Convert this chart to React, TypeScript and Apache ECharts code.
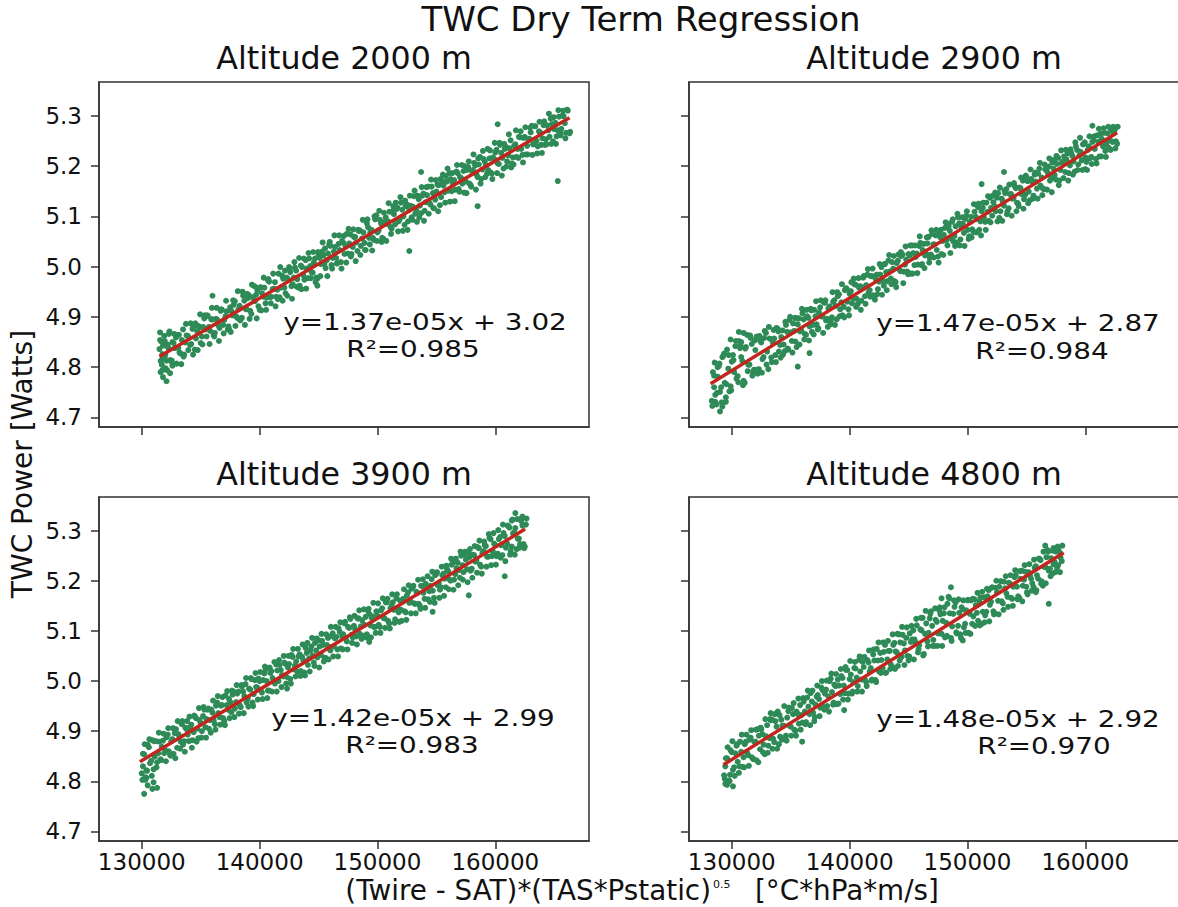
import React, { useEffect, useRef } from "react";
import * as echarts from "echarts";

// ---------------- data ----------------
const panelTitles = ["Altitude 2000 m", "Altitude 2900 m", "Altitude 3900 m", "Altitude 4800 m"];
const fitEquations = ["y=1.37e-05x + 3.02", "y=1.47e-05x + 2.87", "y=1.42e-05x + 2.99", "y=1.48e-05x + 2.92"];
const rSquared = ["R²=0.985", "R²=0.984", "R²=0.983", "R²=0.970"];
const xTicks = [130000, 140000, 150000, 160000];
const yTicks = [4.7, 4.8, 4.9, 5.0, 5.1, 5.2, 5.3];
const xRange = [126370, 167950];
const yRange = [4.681, 5.367];

const fit2000 = [[131500, 4.821], [166300, 5.296]];
const fit2900 = [[128200, 4.767], [162700, 5.266]];
const fit3900 = [[129840, 4.839], [162530, 5.303]];
const fit4800 = [[129290, 4.833], [158170, 5.256]];

const pts2000 = [
[131500,4.836],[131700,4.815],[131900,4.848],[132100,4.813],[132300,4.837],[132500,4.811],[132700,4.848],[132900,4.859],[133100,4.838],[133300,4.827],
[133500,4.875],[133700,4.849],[133900,4.862],[134100,4.844],[134300,4.876],[134500,4.835],[134700,4.871],[134900,4.879],[135100,4.861],[135300,4.897],
[135500,4.861],[135700,4.880],[135900,4.895],[136100,4.864],[136300,4.896],[136500,4.883],[136700,4.912],[136900,4.884],[137100,4.901],[137300,4.875],
[137500,4.919],[137700,4.903],[137900,4.931],[138100,4.898],[138300,4.922],[138500,4.898],[138700,4.932],[138900,4.915],[139100,4.943],[139300,4.906],
[139500,4.936],[139700,4.944],[139900,4.921],[140100,4.959],[140300,4.940],[140500,4.927],[140700,4.973],[140900,4.939],[141100,4.955],[141300,4.969],
[141500,4.954],[141700,4.939],[141900,4.982],[142100,4.958],[142300,4.978],[142500,4.999],[142700,4.961],[142900,4.978],[143100,4.992],[143300,4.958],
[143500,5.002],[143700,4.983],[143900,5.013],[144100,4.977],[144300,5.001],[144500,4.988],[144700,5.016],[144900,4.976],[145100,5.017],[145300,5.030],
[145500,5.005],[145700,5.013],[145900,5.043],[146100,5.003],[146300,5.030],[146500,5.017],[146700,5.045],[146900,5.009],[147100,5.047],[147300,5.040],
[147500,5.026],[147700,5.064],[147900,5.039],[148100,5.059],[148300,5.031],[148500,5.072],[148700,5.056],[148900,5.047],[149100,5.086],[149300,5.057],
[149500,5.073],[149700,5.053],[149900,5.102],[150100,5.072],[150300,5.086],[150500,5.055],[150700,5.098],[150900,5.090],[151100,5.079],[151300,5.111],
[151500,5.084],[151700,5.117],[151900,5.095],[152100,5.113],[152300,5.083],[152500,5.123],[152700,5.113],[152900,5.098],[153100,5.140],[153300,5.112],
[153500,5.134],[153700,5.106],[153900,5.145],[154100,5.128],[154300,5.159],[154500,5.123],[154700,5.146],[154900,5.133],[155100,5.163],[155300,5.122],
[155500,5.170],[155700,5.148],[155900,5.169],[156100,5.186],[156300,5.150],[156500,5.172],[156700,5.189],[156900,5.154],[157100,5.176],[157300,5.190],
[157500,5.169],[157700,5.198],[157900,5.162],[158100,5.192],[158300,5.201],[158500,5.178],[158700,5.218],[158900,5.193],[159100,5.209],[159300,5.185],
[159500,5.215],[159700,5.185],[159900,5.214],[160100,5.232],[160300,5.204],[160500,5.226],[160700,5.195],[160900,5.238],[161100,5.221],[161300,5.251],
[161500,5.217],[161700,5.243],[161900,5.234],[162100,5.257],[162300,5.222],[162500,5.258],[162700,5.240],[162900,5.254],[163100,5.280],[163300,5.244],
[163500,5.250],[163700,5.269],[163900,5.242],[164100,5.281],[164300,5.253],[164500,5.271],[164700,5.294],[164900,5.249],[165100,5.286],[165300,5.271],
[165500,5.267],[165700,5.300],[165900,5.285],[166100,5.312],[166300,5.265],
[131600,4.812],[131800,4.843],[132000,4.825],[132200,4.840],[132400,4.814],[132600,4.850],[132800,4.838],[133000,4.864],[133200,4.829],[133400,4.854],
[133600,4.825],[133800,4.863],[134000,4.859],[134200,4.846],[134400,4.880],[134600,4.857],[134800,4.882],[135000,4.848],[135200,4.880],[135400,4.875],
[135600,4.902],[135800,4.872],[136000,4.895],[136200,4.868],[136400,4.894],[136600,4.878],[136800,4.914],[137000,4.894],[137200,4.911],[137400,4.876],
[137600,4.912],[137800,4.924],[138000,4.901],[138200,4.915],[138400,4.897],[138600,4.942],[138800,4.916],[139000,4.937],[139200,4.912],[139400,4.939],
[139600,4.931],[139800,4.953],[140000,4.914],[140200,4.947],[140400,4.958],[140600,4.938],[140800,4.970],[141000,4.940],[141200,4.956],[141400,4.940],
[141600,4.986],[141800,4.958],[142000,4.976],[142200,4.947],[142400,4.975],[142600,4.989],[142800,4.965],[143000,4.998],[143200,4.975],[143400,4.962],
[143600,4.999],[143800,4.974],[144000,4.996],[144200,5.016],[144400,4.989],[144600,5.008],[144800,4.978],[145000,5.023],[145200,5.005],[145400,5.022],
[145600,4.997],[145800,5.026],[146000,5.041],[146200,5.017],[146400,5.039],[146600,5.007],[146800,5.033],[147000,5.051],[147200,5.025],[147400,5.065],
[147600,5.046],[147800,5.025],[148000,5.059],[148200,5.048],[148400,5.071],[148600,5.041],[148800,5.068],[149000,5.033],[149200,5.078],[149400,5.068],
[149600,5.057],[149800,5.094],[150000,5.068],[150200,5.093],[150400,5.057],[150600,5.089],[150800,5.085],[151000,5.109],[151200,5.075],[151400,5.104],
[151600,5.114],[151800,5.090],[152000,5.127],[152200,5.100],[152400,5.120],[152600,5.090],[152800,5.121],[153000,5.119],[153200,5.105],[153400,5.141],
[153600,5.121],[153800,5.141],[154000,5.111],[154200,5.142],[154400,5.127],[154600,5.159],[154800,5.116],[155000,5.149],[155200,5.162],[155400,5.138],
[155600,5.161],[155800,5.180],[156000,5.151],[156200,5.174],[156400,5.165],[156600,5.153],[156800,5.186],[157000,5.178],[157200,5.165],[157400,5.200],
[157600,5.192],[157800,5.165],[158000,5.190],[158200,5.206],[158400,5.183],[158600,5.203],[158800,5.174],[159000,5.214],[159200,5.202],[159400,5.192],
[159600,5.187],[159800,5.217],[160000,5.227],[160200,5.205],[160400,5.242],[160600,5.216],[160800,5.234],[161000,5.209],[161200,5.235],[161400,5.205],
[161600,5.240],[161800,5.218],[162000,5.258],[162200,5.234],[162400,5.256],[162600,5.223],[162800,5.253],[163000,5.267],[163200,5.243],[163400,5.279],
[163600,5.239],[163800,5.267],[164000,5.255],[164200,5.242],[164400,5.281],[164600,5.258],[164800,5.283],[165000,5.273],[165200,5.259],[165400,5.298],
[165600,5.274],[165800,5.299],[166000,5.266],
[131550,4.854],[131750,4.794],[131950,4.852],[132150,4.794],[132350,4.871],[132550,4.813],[132750,4.866],[132950,4.807],[133150,4.864],[133350,4.806],
[133550,4.821],[133750,4.886],[133950,4.834],[134150,4.887],[134350,4.825],[134550,4.887],[134750,4.834],[134950,4.905],[135150,4.845],[135350,4.903],
[135550,4.903],[135750,4.846],[135950,4.918],[136150,4.861],[136350,4.918],[136550,4.852],[136750,4.915],[136950,4.867],[137150,4.932],[137350,4.881],
[137550,4.870],[137750,4.933],[137950,4.882],[138150,4.951],[138350,4.893],[138550,4.950],[138750,4.884],[138950,4.946],[139150,4.896],[139350,4.964],
[139550,4.961],[139750,4.897],[139950,4.958],[140150,4.913],[140350,4.978],[140550,4.914],[140750,4.975],[140950,4.927],[141150,4.986],[141350,4.921],
[141550,4.935],[141750,4.999],[141950,4.932],[142150,4.992],[142350,4.942],[142550,4.994],[142750,4.936],[142950,5.009],[143150,4.960],[143350,5.017],
[143550,4.955],[143750,5.016],[143950,4.956],[144150,5.027],[144350,4.977],[144550,5.029],[144750,4.969],[144950,5.029],[145150,4.981],[145350,5.048],
[145550,5.036],[145750,4.981],[145950,5.049],[146150,4.996],[146350,5.062],[146550,5.006],[146750,5.062],[146950,4.996],[147150,5.061],[147350,5.008],
[147550,5.075],[147750,5.020],[147950,5.074],[148150,5.011],[148350,5.073],[148550,5.023],[148750,5.093],[148950,5.033],[149150,5.094],[149350,5.044],
[149550,5.032],[149750,5.100],[149950,5.051],[150150,5.111],[150350,5.049],[150550,5.107],[150750,5.051],[150950,5.126],[151150,5.065],[151350,5.120],
[151550,5.127],[151750,5.070],[151950,5.138],[152150,5.071],[152350,5.131],[152550,5.073],[152750,5.141],[152950,5.093],[153150,5.151],[153350,5.089],
[153550,5.098],[153750,5.158],[153950,5.091],[154150,5.158],[154350,5.105],[154550,5.173],[154750,5.116],[154950,5.172],[155150,5.110],[155350,5.174],
[155550,5.183],[155750,5.127],[155950,5.195],[156150,5.129],[156350,5.186],[156550,5.130],[156750,5.202],[156950,5.149],[157150,5.202],[157350,5.147],
[157550,5.146],[157750,5.209],[157950,5.159],[158150,5.223],[158350,5.153],[158550,5.215],[158750,5.165],[158950,5.230],[159150,5.178],[159350,5.234],
[159550,5.231],[159750,5.174],[159950,5.246],[160150,5.186],[160350,5.246],[160550,5.181],[160750,5.244],[160950,5.199],[161150,5.263],[161350,5.197],
[161550,5.203],[161750,5.271],[161950,5.216],[162150,5.269],[162350,5.207],[162550,5.277],[162750,5.223],[162950,5.276],[163150,5.222],[163350,5.279],
[163550,5.225],[163750,5.288],[163950,5.226],[164150,5.289],[164350,5.243],[164550,5.304],[164750,5.244],[164950,5.297],[165150,5.244],[165350,5.311],
[165550,5.261],[165750,5.310],[165950,5.255],[166150,5.310],[166350,5.268],
[131600,4.790],[131700,4.805],[131650,4.851],[131800,4.780],[131900,4.862],[132000,4.798],[132100,4.772],[131750,4.826],[132200,4.845],[131550,4.869],
[132400,4.788],[131950,4.818],[132300,4.866],[132600,4.803],[165300,5.170],[158500,5.120],[152700,5.031],[144900,4.962],[136000,4.942],[153700,5.188],[160200,5.283]
];

const pts2900 = [
[128300,4.733],[128500,4.783],[128700,4.726],[128900,4.802],[129100,4.760],[129300,4.823],[129500,4.731],[129700,4.797],[129900,4.762],[130100,4.824],
[130300,4.842],[130500,4.782],[130700,4.838],[130900,4.812],[131100,4.769],[131300,4.864],[131500,4.805],[131700,4.846],[131900,4.795],[132100,4.861],
[132300,4.796],[132500,4.849],[132700,4.820],[132900,4.868],[133100,4.796],[133300,4.856],[133500,4.848],[133700,4.824],[133900,4.876],[134100,4.844],
[134300,4.873],[134500,4.832],[134700,4.870],[134900,4.894],[135100,4.852],[135300,4.872],[135500,4.840],[135700,4.897],[135900,4.873],[136100,4.895],
[136300,4.864],[136500,4.898],[136700,4.916],[136900,4.884],[137100,4.901],[137300,4.875],[137500,4.919],[137700,4.901],[137900,4.928],[138100,4.896],
[138300,4.921],[138500,4.899],[138700,4.933],[138900,4.895],[139100,4.945],[139300,4.929],[139500,4.920],[139700,4.957],[139900,4.915],[140100,4.951],
[140300,4.936],[140500,4.964],[140700,4.926],[140900,4.961],[141100,4.957],[141300,4.941],[141500,4.984],[141700,4.953],[141900,4.981],[142100,4.940],
[142300,4.984],[142500,4.970],[142700,4.999],[142900,4.962],[143100,4.989],[143300,5.012],[143500,4.976],[143700,4.996],[143900,4.969],[144100,5.012],
[144300,4.991],[144500,5.024],[144700,5.004],[144900,4.990],[145100,5.022],[145300,5.042],[145500,5.003],[145700,5.026],[145900,5.041],[146100,5.003],
[146300,5.045],[146500,5.025],[146700,5.059],[146900,5.024],[147100,5.044],[147300,5.062],[147500,5.020],[147700,5.058],[147900,5.051],[148100,5.077],
[148300,5.042],[148500,5.071],[148700,5.089],[148900,5.061],[149100,5.048],[149300,5.086],[149500,5.078],[149700,5.067],[149900,5.101],[150100,5.055],
[150300,5.099],[150500,5.069],[150700,5.099],[150900,5.118],[151100,5.090],[151300,5.117],[151500,5.089],[151700,5.109],[151900,5.137],[152100,5.101],
[152300,5.120],[152500,5.137],[152700,5.097],[152900,5.135],[153100,5.121],[153300,5.154],[153500,5.116],[153700,5.144],[153900,5.136],[154100,5.156],
[154300,5.125],[154500,5.156],[154700,5.171],[154900,5.143],[155100,5.170],[155300,5.132],[155500,5.168],[155700,5.183],[155900,5.155],[156100,5.195],
[156300,5.177],[156500,5.154],[156700,5.192],[156900,5.199],[157100,5.176],[157300,5.195],[157500,5.173],[157700,5.216],[157900,5.192],[158100,5.209],
[158300,5.188],[158500,5.225],[158700,5.201],[158900,5.220],[159100,5.189],[159300,5.232],[159500,5.221],[159700,5.211],[159900,5.244],[160100,5.208],
[160300,5.239],[160500,5.218],[160700,5.251],[160900,5.214],[161100,5.248],[161300,5.264],[161500,5.239],[161700,5.230],[161900,5.265],[162100,5.251],
[162300,5.248],[162500,5.272],[162700,5.244],
[128400,4.790],[128600,4.731],[128800,4.781],[129000,4.751],[129200,4.820],[129400,4.769],[129600,4.835],[129800,4.752],[130000,4.811],[130200,4.790],
[130400,4.777],[130600,4.852],[130800,4.820],[131000,4.773],[131200,4.840],[131400,4.805],[131600,4.858],[131800,4.791],[132000,4.834],[132200,4.787],
[132400,4.853],[132600,4.816],[132800,4.872],[133000,4.831],[133200,4.857],[133400,4.810],[133600,4.857],[133800,4.878],[134000,4.831],[134200,4.860],
[134400,4.845],[134600,4.884],[134800,4.835],[135000,4.869],[135200,4.887],[135400,4.851],[135600,4.885],[135800,4.871],[136000,4.907],[136200,4.866],
[136400,4.901],[136600,4.881],[136800,4.870],[137000,4.914],[137200,4.885],[137400,4.909],[137600,4.901],[137800,4.929],[138000,4.893],[138200,4.917],
[138400,4.892],[138600,4.930],[138800,4.922],[139000,4.941],[139200,4.915],[139400,4.903],[139600,4.953],[139800,4.930],[140000,4.946],[140200,4.927],
[140400,4.965],[140600,4.936],[140800,4.958],[141000,4.932],[141200,4.981],[141400,4.963],[141600,4.948],[141800,4.981],[142000,4.943],[142200,4.976],
[142400,4.955],[142600,4.984],[142800,4.972],[143000,5.005],[143200,4.971],[143400,4.990],[143600,5.009],[143800,4.971],[144000,5.007],[144200,4.995],
[144400,5.021],[144600,4.990],[144800,5.014],[145000,5.025],[145200,4.986],[145400,5.027],[145600,5.019],[145800,5.004],[146000,5.047],[146200,5.033],
[146400,5.022],[146600,5.046],[146800,5.017],[147000,5.065],[147200,5.044],[147400,5.033],[147600,5.064],[147800,5.025],[148000,5.063],[148200,5.052],
[148400,5.080],[148600,5.056],[148800,5.050],[149000,5.080],[149200,5.098],[149400,5.054],[149600,5.085],[149800,5.095],[150000,5.073],[150200,5.089],
[150400,5.074],[150600,5.109],[150800,5.095],[151000,5.073],[151200,5.110],[151400,5.098],[151600,5.127],[151800,5.091],[152000,5.117],[152200,5.128],
[152400,5.110],[152600,5.146],[152800,5.110],[153000,5.130],[153200,5.146],[153400,5.110],[153600,5.144],[153800,5.135],[154000,5.160],[154200,5.127],
[154400,5.157],[154600,5.144],[154800,5.134],[155000,5.178],[155200,5.149],[155400,5.174],[155600,5.141],[155800,5.169],[156000,5.185],[156200,5.161],
[156400,5.155],[156600,5.193],[156800,5.187],[157000,5.171],[157200,5.207],[157400,5.182],[157600,5.204],[157800,5.171],[158000,5.206],[158200,5.219],
[158400,5.213],[158600,5.186],[158800,5.226],[159000,5.209],[159200,5.239],[159400,5.203],[159600,5.228],[159800,5.243],[160000,5.217],[160200,5.232],
[160400,5.215],[160600,5.248],[160800,5.234],[161000,5.261],[161200,5.219],[161400,5.254],[161600,5.266],[161800,5.244],[162000,5.236],[162200,5.272],
[162400,5.265],[162600,5.249],
[128350,4.723],[128550,4.809],[128750,4.749],[128950,4.807],[129150,4.730],[129350,4.827],[129550,4.766],[129750,4.824],[129950,4.754],[130150,4.814],
[130350,4.852],[130550,4.770],[130750,4.843],[130950,4.764],[131150,4.837],[131350,4.792],[131550,4.863],[131750,4.783],[131950,4.853],[132150,4.795],
[132350,4.862],[132550,4.789],[132750,4.858],[132950,4.805],[133150,4.880],[133350,4.819],[133550,4.874],[133750,4.810],[133950,4.871],[134150,4.819],
[134350,4.825],[134550,4.890],[134750,4.837],[134950,4.900],[135150,4.829],[135350,4.898],[135550,4.897],[135750,4.845],[135950,4.916],[136150,4.855],
[136350,4.914],[136550,4.853],[136750,4.913],[136950,4.865],[137150,4.931],[137350,4.877],[137550,4.933],[137750,4.868],[137950,4.933],[138150,4.880],
[138350,4.885],[138550,4.949],[138750,4.884],[138950,4.949],[139150,4.901],[139350,4.965],[139550,4.899],[139750,4.955],[139950,4.903],[140150,4.969],
[140350,4.976],[140550,4.920],[140750,4.977],[140950,4.914],[141150,4.978],[141350,4.926],[141550,4.995],[141750,4.940],[141950,4.996],[142150,4.934],
[142350,4.945],[142550,5.005],[142750,4.944],[142950,5.005],[143150,4.953],[143350,5.023],[143550,4.965],[143750,5.021],[143950,4.959],[144150,5.024],
[144350,5.029],[144550,4.967],[144750,5.040],[144950,4.985],[145150,5.042],[145350,4.986],[145550,5.042],[145750,4.987],[145950,5.060],[146150,5.005],
[146350,4.997],[146550,5.058],[146750,5.008],[146950,5.072],[147150,5.018],[147350,5.073],[147550,5.008],[147750,5.073],[147950,5.023],[148150,5.088],
[148350,5.085],[148550,5.027],[148750,5.094],[148950,5.041],[149150,5.105],[149350,5.042],[149550,5.098],[149750,5.041],[149950,5.110],[150150,5.060],
[150350,5.058],[150550,5.124],[150750,5.068],[150950,5.125],[151150,5.062],[151350,5.127],[151550,5.073],[151750,5.140],[151950,5.088],[152150,5.141],
[152350,5.147],[152550,5.090],[152750,5.157],[152950,5.091],[153150,5.151],[153350,5.104],[153550,5.163],[153750,5.101],[153950,5.166],[154150,5.110],
[154350,5.120],[154550,5.177],[154750,5.115],[154950,5.181],[155150,5.126],[155350,5.193],[155550,5.135],[155750,5.187],[155950,5.135],[156150,5.206],
[156350,5.142],[156550,5.203],[156750,5.153],[156950,5.215],[157150,5.148],[157350,5.212],[157550,5.220],[157750,5.162],[157950,5.231],[158150,5.176],
[158350,5.232],[158550,5.171],[158750,5.233],[158950,5.183],[159150,5.247],[159350,5.192],[159550,5.256],[159750,5.192],[159950,5.247],[160150,5.192],
[160350,5.259],[160550,5.204],[160750,5.259],[160950,5.205],[161150,5.274],[161350,5.219],[161550,5.275],[161750,5.218],[161950,5.278],[162150,5.232],
[162350,5.278],[162550,5.235],[162750,5.278],
[129000,4.712],[129200,4.722],[128600,4.745],[130600,4.870],[131000,4.868],[129900,4.855],[135600,4.801],[136600,4.828],[153100,5.188],[151200,5.164],
[162600,5.277],[160600,5.280],[160000,5.194],[128500,4.760],[128800,4.800],[129500,4.740],[130800,4.850]
];

const pts3900 = [
[130000,4.816],[130200,4.854],[130400,4.807],[130600,4.868],[130800,4.841],[131000,4.824],[131200,4.880],[131400,4.856],[131600,4.844],[131800,4.881],
[132000,4.862],[132200,4.893],[132400,4.853],[132600,4.884],[132800,4.896],[133000,4.867],[133200,4.890],[133400,4.914],[133600,4.880],[133800,4.904],
[134000,4.880],[134200,4.913],[134400,4.898],[134600,4.926],[134800,4.886],[135000,4.916],[135200,4.930],[135400,4.908],[135600,4.943],[135800,4.922],
[136000,4.937],[136200,4.914],[136400,4.957],[136600,4.928],[136800,4.952],[137000,4.920],[137200,4.952],[137400,4.964],[137600,4.938],[137800,4.979],
[138000,4.958],[138200,4.979],[138400,4.948],[138600,4.979],[138800,4.994],[139000,4.965],[139200,4.983],[139400,4.957],[139600,5.002],[139800,4.987],
[140000,5.000],[140200,4.977],[140400,5.015],[140600,5.000],[140800,4.981],[141000,5.020],[141200,5.001],[141400,5.033],[141600,5.000],[141800,5.022],
[142000,5.009],[142200,5.034],[142400,5.027],[142600,5.004],[142800,5.048],[143000,5.031],[143200,5.019],[143400,5.053],[143600,5.048],[143800,5.017],
[144000,5.056],[144200,5.045],[144400,5.069],[144600,5.037],[144800,5.061],[145000,5.081],[145200,5.052],[145400,5.072],[145600,5.046],[145800,5.086],
[146000,5.061],[146200,5.095],[146400,5.085],[146600,5.063],[146800,5.098],[147000,5.089],[147200,5.115],[147400,5.079],[147600,5.106],[147800,5.092],
[148000,5.110],[148200,5.089],[148400,5.125],[148600,5.109],[148800,5.090],[149000,5.128],[149200,5.140],[149400,5.111],[149600,5.129],[149800,5.108],
[150000,5.130],[150200,5.108],[150400,5.145],[150600,5.125],[150800,5.157],[151000,5.115],[151200,5.150],[151400,5.142],[151600,5.165],[151800,5.137],
[152000,5.142],[152200,5.164],[152400,5.137],[152600,5.177],[152800,5.159],[153000,5.187],[153200,5.154],[153400,5.176],[153600,5.150],[153800,5.189],
[154000,5.164],[154200,5.189],[154400,5.179],[154600,5.203],[154800,5.166],[155000,5.214],[155200,5.195],[155400,5.187],[155600,5.214],[155800,5.187],
[156000,5.219],[156200,5.200],[156400,5.236],[156600,5.213],[156800,5.236],[157000,5.206],[157200,5.231],[157400,5.252],[157600,5.223],[157800,5.247],
[158000,5.224],[158200,5.251],[158400,5.241],[158600,5.265],[158800,5.228],[159000,5.259],[159200,5.269],[159400,5.248],[159600,5.283],[159800,5.258],
[160000,5.271],[160200,5.254],[160400,5.287],[160600,5.251],[160800,5.289],[161000,5.274],[161200,5.306],[161400,5.268],[161600,5.297],[161800,5.263],
[162000,5.284],[162200,5.319],[162400,5.273],[162600,5.312],
[130100,4.855],[130300,4.808],[130500,4.873],[130700,4.836],[130900,4.882],[131100,4.849],[131300,4.838],[131500,4.879],[131700,4.869],[131900,4.856],
[132100,4.888],[132300,4.860],[132500,4.880],[132700,4.855],[132900,4.904],[133100,4.894],[133300,4.879],[133500,4.873],[133700,4.907],[133900,4.893],
[134100,4.908],[134300,4.882],[134500,4.929],[134700,4.905],[134900,4.922],[135100,4.900],[135300,4.943],[135500,4.924],[135700,4.905],[135900,4.943],
[136100,4.922],[136300,4.951],[136500,4.936],[136700,4.951],[136900,4.926],[137100,4.971],[137300,4.943],[137500,4.958],[137700,4.973],[137900,4.945],
[138100,4.975],[138300,4.952],[138500,4.989],[138700,4.970],[138900,4.957],[139100,4.985],[139300,5.004],[139500,4.974],[139700,4.988],[139900,5.005],
[140100,4.981],[140300,5.002],[140500,5.023],[140700,4.981],[140900,5.016],[141100,5.006],[141300,4.995],[141500,5.021],[141700,5.032],[141900,5.012],
[142100,5.037],[142300,5.008],[142500,5.034],[142700,5.052],[142900,5.023],[143100,5.039],[143300,5.049],[143500,5.020],[143700,5.042],[143900,5.066],
[144100,5.032],[144300,5.061],[144500,5.051],[144700,5.076],[144900,5.047],[145100,5.069],[145300,5.080],[145500,5.046],[145700,5.072],[145900,5.068],
[146100,5.090],[146300,5.069],[146500,5.088],[146700,5.105],[146900,5.065],[147100,5.093],[147300,5.086],[147500,5.108],[147700,5.124],[147900,5.087],
[148100,5.104],[148300,5.125],[148500,5.094],[148700,5.121],[148900,5.112],[149100,5.093],[149300,5.134],[149500,5.126],[149700,5.108],[149900,5.139],
[150100,5.112],[150300,5.141],[150500,5.126],[150700,5.157],[150900,5.120],[151100,5.145],[151300,5.157],[151500,5.123],[151700,5.146],[151900,5.161],
[152100,5.158],[152300,5.139],[152500,5.171],[152700,5.156],[152900,5.184],[153100,5.155],[153300,5.178],[153500,5.154],[153700,5.190],[153900,5.176],
[154100,5.194],[154300,5.163],[154500,5.190],[154700,5.180],[154900,5.211],[155100,5.191],[155300,5.182],[155500,5.211],[155700,5.204],[155900,5.223],
[156100,5.203],[156300,5.232],[156500,5.202],[156700,5.225],[156900,5.221],[157100,5.250],[157300,5.217],[157500,5.242],[157700,5.254],[157900,5.220],
[158100,5.252],[158300,5.238],[158500,5.267],[158700,5.232],[158900,5.255],[159100,5.271],[159300,5.248],[159500,5.285],[159700,5.249],[159900,5.274],
[160100,5.249],[160300,5.283],[160500,5.271],[160700,5.295],[160900,5.266],[161100,5.309],[161300,5.259],[161500,5.294],[161700,5.305],[161900,5.284],
[162100,5.273],[162300,5.310],[162500,5.268],
[130050,4.803],[130250,4.874],[130450,4.821],[130650,4.884],[130850,4.811],[131050,4.880],[131250,4.828],[131450,4.897],[131650,4.842],[131850,4.895],
[132050,4.840],[132250,4.906],[132450,4.851],[132650,4.906],[132850,4.846],[133050,4.920],[133250,4.865],[133450,4.920],[133650,4.859],[133850,4.920],
[134050,4.929],[134250,4.867],[134450,4.931],[134650,4.879],[134850,4.946],[135050,4.887],[135250,4.948],[135450,4.887],[135650,4.945],[135850,4.897],
[136050,4.961],[136250,4.903],[136450,4.970],[136650,4.913],[136850,4.968],[137050,4.912],[137250,4.980],[137450,4.926],[137650,4.981],[137850,4.928],
[138050,4.992],[138250,4.935],[138450,4.992],[138650,4.936],[138850,5.006],[139050,4.949],[139250,5.006],[139450,4.950],[139650,5.016],[139850,4.963],
[140050,5.018],[140250,4.964],[140450,5.029],[140650,4.966],[140850,5.027],[141050,4.979],[141250,5.038],[141450,4.979],[141650,5.042],[141850,4.988],
[142050,5.050],[142250,4.995],[142450,5.050],[142650,4.995],[142850,5.064],[143050,5.009],[143250,5.064],[143450,5.010],[143650,5.073],[143850,5.011],
[144050,5.076],[144250,5.019],[144450,5.086],[144650,5.030],[144850,5.085],[145050,5.027],[145250,5.094],[145450,5.039],[145650,5.093],[145850,5.043],
[146050,5.108],[146250,5.049],[146450,5.108],[146650,5.049],[146850,5.117],[147050,5.063],[147250,5.118],[147450,5.063],[147650,5.127],[147850,5.076],
[148050,5.130],[148250,5.073],[148450,5.141],[148650,5.084],[148850,5.143],[149050,5.087],[149250,5.144],[149450,5.087],[149650,5.156],[149850,5.096],
[150050,5.155],[150250,5.096],[150450,5.165],[150650,5.106],[150850,5.164],[151050,5.105],[151250,5.173],[151450,5.116],[151650,5.173],[151850,5.118],
[152050,5.120],[152250,5.183],[152450,5.122],[152650,5.191],[152850,5.135],[153050,5.190],[153250,5.135],[153450,5.202],[153650,5.144],[153850,5.203],
[154050,5.146],[154250,5.209],[154450,5.158],[154650,5.218],[154850,5.156],[155050,5.217],[155250,5.166],[155450,5.228],[155650,5.170],[155850,5.230],
[156050,5.183],[156250,5.244],[156450,5.182],[156650,5.244],[156850,5.191],[157050,5.258],[157250,5.202],[157450,5.258],[157650,5.197],[157850,5.263],
[158050,5.206],[158250,5.269],[158450,5.216],[158650,5.280],[158850,5.214],[159050,5.278],[159250,5.228],[159450,5.293],[159650,5.231],[159850,5.295],
[160050,5.232],[160250,5.301],[160450,5.246],[160650,5.312],[160850,5.239],[161050,5.310],[161250,5.252],[161450,5.322],[161650,5.252],[161850,5.323],
[162050,5.266],[162250,5.325],[162450,5.265],[162650,5.324],
[130200,4.775],[130500,4.792],[130900,4.785],[131000,4.798],[130300,4.803],[131300,4.787],[161700,5.335],[162300,5.328],[161400,5.320],[160800,5.209],
[157750,5.171],[149300,5.078],[154680,5.138],[142330,4.985],[130100,4.830],[130400,4.822]
];

const pts4800 = [
[129400,4.805],[129600,4.846],[129800,4.801],[130000,4.858],[130200,4.828],[130400,4.871],[130600,4.817],[130800,4.859],[131000,4.848],[131200,4.879],
[131400,4.852],[131600,4.887],[131800,4.845],[132000,4.879],[132200,4.904],[132400,4.864],[132600,4.894],[132800,4.854],[133000,4.912],[133200,4.886],
[133400,4.923],[133600,4.878],[133800,4.909],[134000,4.874],[134200,4.923],[134400,4.911],[134600,4.891],[134800,4.940],[135000,4.909],[135200,4.934],
[135400,4.901],[135600,4.934],[135800,4.952],[136000,4.917],[136200,4.939],[136400,4.967],[136600,4.934],[136800,4.959],[137000,4.920],[137200,4.969],
[137400,4.964],[137600,4.987],[137800,4.948],[138000,4.983],[138200,4.969],[138400,5.005],[138600,4.953],[138800,4.990],[139000,5.003],[139200,4.974],
[139400,5.006],[139600,4.976],[139800,5.022],[140000,5.004],[140200,4.975],[140400,5.026],[140600,5.007],[140800,5.042],[141000,5.003],[141200,5.028],
[141400,4.998],[141600,5.037],[141800,5.026],[142000,5.053],[142200,5.002],[142400,5.041],[142600,5.056],[142800,5.026],[143000,5.072],[143200,5.043],
[143400,5.060],[143600,5.029],[143800,5.076],[144000,5.057],[144200,5.093],[144400,5.048],[144600,5.075],[144800,5.086],[145000,5.041],[145200,5.078],
[145400,5.101],[145600,5.077],[145800,5.057],[146000,5.103],[146200,5.126],[146400,5.094],[146600,5.079],[146800,5.125],[147000,5.110],[147200,5.070],
[147400,5.118],[147600,5.141],[147800,5.094],[148000,5.135],[148200,5.116],[148400,5.168],[148600,5.086],[148800,5.134],[149000,5.157],[149200,5.110],
[149400,5.093],[149600,5.143],[149800,5.114],[150000,5.161],[150200,5.134],[150400,5.114],[150600,5.163],[150800,5.136],[151000,5.159],[151200,5.114],
[151400,5.167],[151600,5.138],[151800,5.181],[152000,5.158],[152200,5.139],[152400,5.186],[152600,5.160],[152800,5.199],[153000,5.155],[153200,5.185],
[153400,5.168],[153600,5.195],[153800,5.164],[154000,5.207],[154200,5.188],[154400,5.166],[154600,5.220],[154800,5.202],[155000,5.188],[155200,5.217],
[155400,5.204],[155600,5.188],[155800,5.229],[156000,5.204],[156200,5.241],[156400,5.190],[156600,5.227],[156800,5.261],[157000,5.224],[157200,5.214],
[157400,5.237],[157600,5.226],[157800,5.257],[158000,5.239],
[129500,4.846],[129700,4.801],[129900,4.862],[130100,4.823],[130300,4.856],[130500,4.839],[130700,4.879],[130900,4.829],[131100,4.874],[131300,4.857],
[131500,4.883],[131700,4.848],[131900,4.879],[132100,4.842],[132300,4.891],[132500,4.904],[132700,4.873],[132900,4.890],[133100,4.871],[133300,4.922],
[133500,4.885],[133700,4.920],[133900,4.939],[134100,4.889],[134300,4.911],[134500,4.884],[134700,4.927],[134900,4.911],[135100,4.946],[135300,4.903],
[135500,4.939],[135700,4.915],[135900,4.932],[136100,4.959],[136300,4.918],[136500,4.949],[136700,4.976],[136900,4.937],[137100,4.953],[137300,4.972],
[137500,4.947],[137700,4.982],[137900,4.975],[138100,4.950],[138300,5.000],[138500,4.978],[138700,4.993],[138900,4.954],[139100,4.991],[139300,5.010],
[139500,4.991],[139700,5.022],[139900,4.975],[140100,5.013],[140300,4.998],[140500,5.025],[140700,4.990],[140900,5.019],[141100,5.038],[141300,5.003],
[141500,5.042],[141700,5.019],[141900,5.003],[142100,5.041],[142300,5.064],[142500,5.019],[142700,5.042],[142900,5.058],[143100,5.017],[143300,5.060],
[143500,5.033],[143700,5.072],[143900,5.059],[144100,5.030],[144300,5.077],[144500,5.092],[144700,5.061],[144900,5.050],[145100,5.095],[145300,5.083],
[145500,5.083],[145700,5.111],[145900,5.071],[146100,5.101],[146300,5.054],[146500,5.115],[146700,5.096],[146900,5.139],[147100,5.082],[147300,5.122],
[147500,5.095],[147700,5.133],[147900,5.120],[148100,5.087],[148300,5.154],[148500,5.135],[148700,5.109],[148900,5.148],[149100,5.095],[149300,5.136],
[149500,5.147],[149700,5.107],[149900,5.141],[150100,5.096],[150300,5.161],[150500,5.129],[150700,5.151],[150900,5.120],[151100,5.167],[151300,5.138],
[151500,5.131],[151700,5.169],[151900,5.152],[152100,5.187],[152300,5.135],[152500,5.177],[152700,5.188],[152900,5.159],[153100,5.198],[153300,5.175],
[153500,5.196],[153700,5.166],[153900,5.188],[154100,5.211],[154300,5.169],[154500,5.204],[154700,5.190],[154900,5.218],[155100,5.173],[155300,5.210],
[155500,5.195],[155700,5.226],[155900,5.211],[156100,5.244],[156300,5.199],[156500,5.228],[156700,5.247],[156900,5.220],[157100,5.245],[157300,5.233],
[157500,5.258],[157700,5.231],[157900,5.246],
[129450,4.795],[129650,4.868],[129850,4.813],[130050,4.880],[130250,4.811],[130450,4.874],[130650,4.830],[130850,4.893],[131050,4.828],[131250,4.893],
[131450,4.831],[131650,4.902],[131850,4.844],[132050,4.903],[132250,4.838],[132450,4.907],[132650,4.858],[132850,4.924],[133050,4.857],[133250,4.924],
[133450,4.865],[133650,4.934],[133850,4.865],[134050,4.932],[134250,4.883],[134450,4.950],[134650,4.881],[134850,4.947],[135050,4.891],[135250,4.956],
[135450,4.891],[135650,4.965],[135850,4.903],[136050,4.966],[136250,4.914],[136450,4.981],[136650,4.912],[136850,4.981],[137050,4.928],[137250,4.991],
[137450,4.930],[137650,5.000],[137850,4.943],[138050,5.001],[138250,4.939],[138450,5.015],[138650,4.957],[138850,5.014],[139050,4.955],[139250,5.024],
[139450,4.963],[139650,5.028],[139850,4.963],[140050,5.040],[140250,4.979],[140450,5.038],[140650,4.979],[140850,5.049],[141050,4.979],[141250,5.048],
[141450,4.990],[141650,5.061],[141850,5.001],[142050,5.063],[142250,4.998],[142450,5.077],[142650,5.016],[142850,5.077],[143050,5.016],[143250,5.080],
[143450,5.024],[143650,5.093],[143850,5.024],[144050,5.094],[144250,5.041],[144450,5.108],[144650,5.032],[144850,5.107],[145050,5.049],[145250,5.110],
[145450,5.043],[145650,5.124],[145850,5.063],[146050,5.126],[146250,5.051],[146450,5.140],[146650,5.069],[146850,5.134],[147050,5.070],[147250,5.145],
[147450,5.070],[147650,5.147],[147850,5.070],[148050,5.147],[148250,5.090],[148450,5.165],[148650,5.080],[148850,5.161],[149050,5.097],[149250,5.163],
[149450,5.086],[149650,5.161],[149850,5.096],[150050,5.162],[150250,5.094],[150450,5.164],[150650,5.110],[150850,5.176],[151050,5.111],[151250,5.178],
[151450,5.117],[151650,5.184],[151850,5.119],[152050,5.186],[152250,5.133],[152450,5.200],[152650,5.133],[152850,5.199],[153050,5.142],[153250,5.209],
[153450,5.148],[153650,5.211],[153850,5.150],[154050,5.221],[154250,5.163],[154450,5.219],[154650,5.159],[154850,5.231],[155050,5.177],[155250,5.233],
[155450,5.180],[155650,5.242],[155850,5.181],[156050,5.244],[156250,5.194],[156450,5.258],[156650,5.195],[156850,5.258],[157050,5.209],[157250,5.260],
[157450,5.217],[157650,5.268],[157850,5.217],[158050,5.270],
[129600,4.793],[129800,4.800],[129350,4.812],[130100,4.790],[148600,5.187],[147800,5.165],[149600,5.081],[156900,5.154],[155800,5.177],[156600,5.270],
[157300,5.265],[157700,5.262],[135970,4.879],[139540,4.942],[133300,4.936],[129450,4.830]
];

const panelPoints = [pts2000, pts2900, pts3900, pts4800];
const panelFits = [fit2000, fit2900, fit3900, fit4800];

// ---------------- layout & style ----------------
const FONT = "'DejaVu Sans', 'Liberation Sans', sans-serif";
const TEXT = "#111111";
const SPINE = "#333333";
const GREEN = "#2e8b57";
const RED = "#c0261d";

const GRIDS = [
  { left: 99, top: 82, width: 490, height: 345 },
  { left: 689, top: 82, width: 490, height: 345 },
  { left: 99, top: 497, width: 490, height: 344 },
  { left: 689, top: 497, width: 490, height: 344 },
];
const TITLE_POS = [[344, 58], [934, 58], [344, 474], [934, 474]];
const EQ_POS = [[425, 322], [1018, 322.5], [413, 717.5], [1018, 718.5]];
const R2_POS = [[413, 349], [1042, 351], [412, 745], [1044, 746]];
const ANNOT_SIZE = 23;
const ANNOT_STRETCH = 1.21;

function txt(text: string, x: number, y: number, size: number, align = "center", extra: any = {}) {
  return {
    type: "text",
    x,
    y,
    silent: true,
    z: 100,
    ...extra,
    style: {
      text,
      fontSize: size,
      fontFamily: FONT,
      fill: TEXT,
      textAlign: align,
      align,
      textVerticalAlign: "middle",
      verticalAlign: "middle",
    },
  };
}

export default function App() {
  const ref = useRef<HTMLDivElement>(null);

  useEffect(() => {
    if (!ref.current) return;
    const chart = echarts.init(ref.current, null, { renderer: "svg", width: 1178, height: 907 });

    const grid = GRIDS.map((g) => ({
      ...g,
      show: true,
      borderColor: SPINE,
      borderWidth: 1.5,
      backgroundColor: "transparent",
      containLabel: false,
      outerBoundsMode: "none",
    }));

    const xAxis = GRIDS.map((_, i) => ({
      type: "value",
      gridIndex: i,
      min: xRange[0],
      max: xRange[1],
      axisLine: { show: true, onZero: false, lineStyle: { color: SPINE, width: 1.5 } },
      axisTick: { show: true, length: 8, customValues: xTicks, lineStyle: { color: SPINE, width: 1.5 } },
      axisLabel: {
        show: i >= 2,
        customValues: xTicks,
        fontSize: 23,
        fontFamily: FONT,
        color: TEXT,
        margin: 10,
        lineHeight: 22,
        formatter: (v: number) => String(Math.round(v)),
      },
      splitLine: { show: false },
    }));

    const yAxis = GRIDS.map((_, i) => ({
      type: "value",
      gridIndex: i,
      min: yRange[0],
      max: yRange[1],
      axisLine: { show: true, onZero: false, lineStyle: { color: SPINE, width: 1.5 } },
      axisTick: { show: true, length: 8, customValues: yTicks, lineStyle: { color: SPINE, width: 1.5 } },
      axisLabel: {
        show: i % 2 === 0,
        customValues: yTicks,
        fontSize: 23,
        fontFamily: FONT,
        color: TEXT,
        margin: 17,
        formatter: (v: number) => v.toFixed(1),
      },
      splitLine: { show: false },
    }));

    const series: any[] = [];
    panelPoints.forEach((pts, i) => {
      series.push({
        type: "scatter",
        xAxisIndex: i,
        yAxisIndex: i,
        data: pts,
        symbol: "circle",
        symbolSize: 6,
        itemStyle: { color: GREEN, opacity: 1 },
        silent: true,
        z: 2,
      });
      series.push({
        type: "line",
        xAxisIndex: i,
        yAxisIndex: i,
        data: panelFits[i],
        symbol: "none",
        showSymbol: false,
        lineStyle: { color: RED, width: 3.5 },
        silent: true,
        z: 3,
      });
    });

    const graphic: any[] = [
      txt("TWC Dry Term Regression", 641, 19, 34),
      txt("TWC Power [Watts]", 22, 464, 28, "center", { rotation: Math.PI / 2 }),
      txt("(Twire - SAT)*(TAS*Pstatic)", 711, 890, 27.8, "right"),
      txt("0.5", 713, 884, 11, "left"),
      txt("[°C*hPa*m/s]", 755, 890, 27.8, "left"),
    ];
    panelTitles.forEach((t, i) => graphic.push(txt(t, TITLE_POS[i][0], TITLE_POS[i][1], 31.7)));
    fitEquations.forEach((t, i) =>
      graphic.push(txt(t, EQ_POS[i][0], EQ_POS[i][1], ANNOT_SIZE, "center", { scaleX: ANNOT_STRETCH }))
    );
    rSquared.forEach((t, i) =>
      graphic.push(txt(t, R2_POS[i][0], R2_POS[i][1], ANNOT_SIZE, "center", { scaleX: ANNOT_STRETCH }))
    );

    chart.setOption({
      animation: false,
      backgroundColor: "#ffffff",
      textStyle: { fontFamily: FONT },
      grid,
      xAxis,
      yAxis,
      series,
      graphic,
    });

    return () => chart.dispose();
  }, []);

  return (
    <div
      ref={ref}
      style={{ position: "fixed", left: 0, top: 0, width: 1178, height: 907, background: "#fff" }}
    />
  );
}
